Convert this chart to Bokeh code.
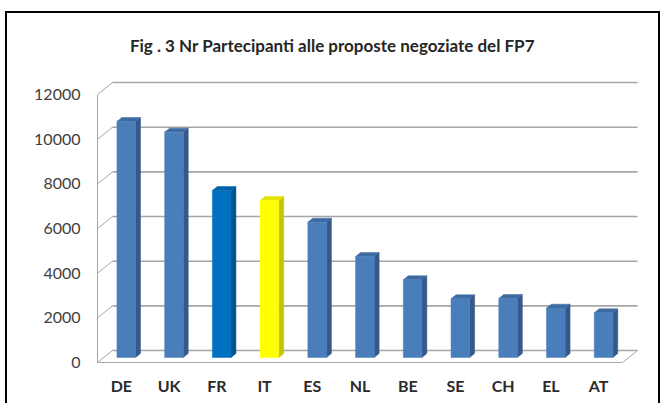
from bokeh.plotting import figure
from bokeh.models import Range1d, FixedTicker, GlobalInlineStyleSheet
from bokeh.embed import file_html
from bokeh.resources import INLINE
from bokeh.core.properties import value

# ---------------- data ----------------
countries = ["DE", "UK", "FR", "IT", "ES", "NL", "BE", "SE", "CH", "EL", "AT"]
participants = [10570, 10090, 7480, 7030, 6060, 4520, 3480, 2630, 2640, 2210, 2000]
y_ticks = [0, 2000, 4000, 6000, 8000, 10000, 12000]
title_text = "Fig . 3  Nr Partecipanti alle proposte negoziate  del FP7"

# ---------------- style ----------------
default_face = ("#4A7EBB", "#34598A", "#3E6AA2")   # front, side, top
special_face = {"FR": ("#0070C0", "#00558F", "#0060A8"),
                "IT": ("#FFFF00", "#C4C400", "#E2E200")}
FONT = "Lato"
GRID = "#A6A6A6"

W, H = 655, 392
BL = 90                         # left border (px)
FRAME_BOTTOM = 349              # px from top of canvas to value 0 (front)
BB = H - FRAME_BOTTOM
PXC = 47.73                     # px per category
PXV = 0.02233                   # px per value unit
frame_w = W - BL
x0 = -0.5
x_end = x0 + frame_w / PXC
y_end = FRAME_BOTTOM / PXV
DX, DY = 15 / PXC, 12 / PXV     # 3-D depth offsets in data units
F_DEPTH, G_DEPTH = 0.42, 0.33   # bar front depth, bar thickness (fractions)
BAR_W, BAR_SHIFT = 0.39, -0.03

p = figure(width=W, height=H, output_backend="svg", toolbar_location=None,
           x_range=Range1d(x0, x_end), y_range=Range1d(0, y_end),
           min_border_left=BL, min_border_bottom=BB, min_border_top=0,
           min_border_right=0)
p.styles = {"border-top": "2px solid black", "border-left": "2px solid black",
            "border-right": "2px solid black",
            "margin-left": "5px", "margin-top": "11px"}
p.stylesheets = [GlobalInlineStyleSheet(css="html, body { overflow: hidden; }")]
p.outline_line_color = None
p.grid.visible = False
p.background_fill_color = "white"
p.border_fill_color = "white"

n = len(countries)
x_lo, x_hi = x0, x0 + n

# back wall gridlines and left wall diagonals
p.segment(x0=[x_lo + DX] * len(y_ticks), y0=[v + DY for v in y_ticks],
          x1=[x_hi + DX] * len(y_ticks), y1=[v + DY for v in y_ticks],
          line_color=GRID, line_width=1.6)
p.segment(x0=[x_lo] * len(y_ticks), y0=y_ticks,
          x1=[x_lo + DX] * len(y_ticks), y1=[v + DY for v in y_ticks],
          line_color=GRID, line_width=1)
# floor right edge
p.segment(x0=[x_hi], y0=[0], x1=[x_hi + DX], y1=[DY], line_color=GRID, line_width=1)

# bars
fronts, sides, tops = [], [], []
L, R, B, T = [], [], [], []
side_xs, side_ys, top_xs, top_ys = [], [], [], []
for i, (c, v) in enumerate(zip(countries, participants)):
    fc, sc, tc = special_face.get(c, default_face)
    l = i + BAR_SHIFT - BAR_W / 2 + F_DEPTH * DX
    r = i + BAR_SHIFT + BAR_W / 2 + F_DEPTH * DX
    b = F_DEPTH * DY
    t = v + F_DEPTH * DY
    L.append(l); R.append(r); B.append(b); T.append(t)
    fronts.append(fc)
    gx, gy = G_DEPTH * DX, G_DEPTH * DY
    side_xs.append([r, r + gx, r + gx, r])
    side_ys.append([b, b + gy, t + gy, t])
    sides.append(sc)
    top_xs.append([l, r, r + gx, l + gx])
    top_ys.append([t, t, t + gy, t + gy])
    tops.append(tc)

p.patches(side_xs, side_ys, fill_color=sides, line_color=sides, line_width=0.5)
p.patches(top_xs, top_ys, fill_color=tops, line_color=tops, line_width=0.5)
p.quad(left=L, right=R, bottom=B, top=T, fill_color=fronts, line_color=fronts,
       line_width=0.5)

# title
p.text(x=[x0 + (336 - 97) / PXC], y=[(362 - 45) / PXV], text=[title_text],
       text_font=value(FONT), text_font_style="bold", text_font_size="17px",
       text_color="#262626", text_align="center", text_baseline="middle")

# axes
ya = p.yaxis[0]
ya.ticker = FixedTicker(ticks=y_ticks)
ya.bounds = (0, 12000)
ya.axis_line_color = GRID
ya.axis_line_width = 1
ya.major_tick_line_color = None
ya.minor_tick_line_color = None
ya.major_tick_out = 0
ya.major_tick_in = 0
ya.major_label_standoff = 17
ya.major_label_text_font = FONT
ya.major_label_text_font_size = "16px"
ya.major_label_text_color = "#404040"

xa = p.xaxis[0]
xa.ticker = FixedTicker(ticks=list(range(n)))
xa.major_label_overrides = {i: c for i, c in enumerate(countries)}
xa.bounds = (x_lo, x_hi)
xa.axis_line_color = GRID
xa.axis_line_width = 1
xa.major_tick_line_color = None
xa.minor_tick_line_color = None
xa.major_tick_out = 0
xa.major_tick_in = 0
xa.major_label_standoff = 13
xa.major_label_text_font = FONT
xa.major_label_text_font_style = "bold"
xa.major_label_text_font_size = "16px"
xa.major_label_text_color = "#2b2b2b"

open("out.html", "w").write(file_html(p, INLINE))
